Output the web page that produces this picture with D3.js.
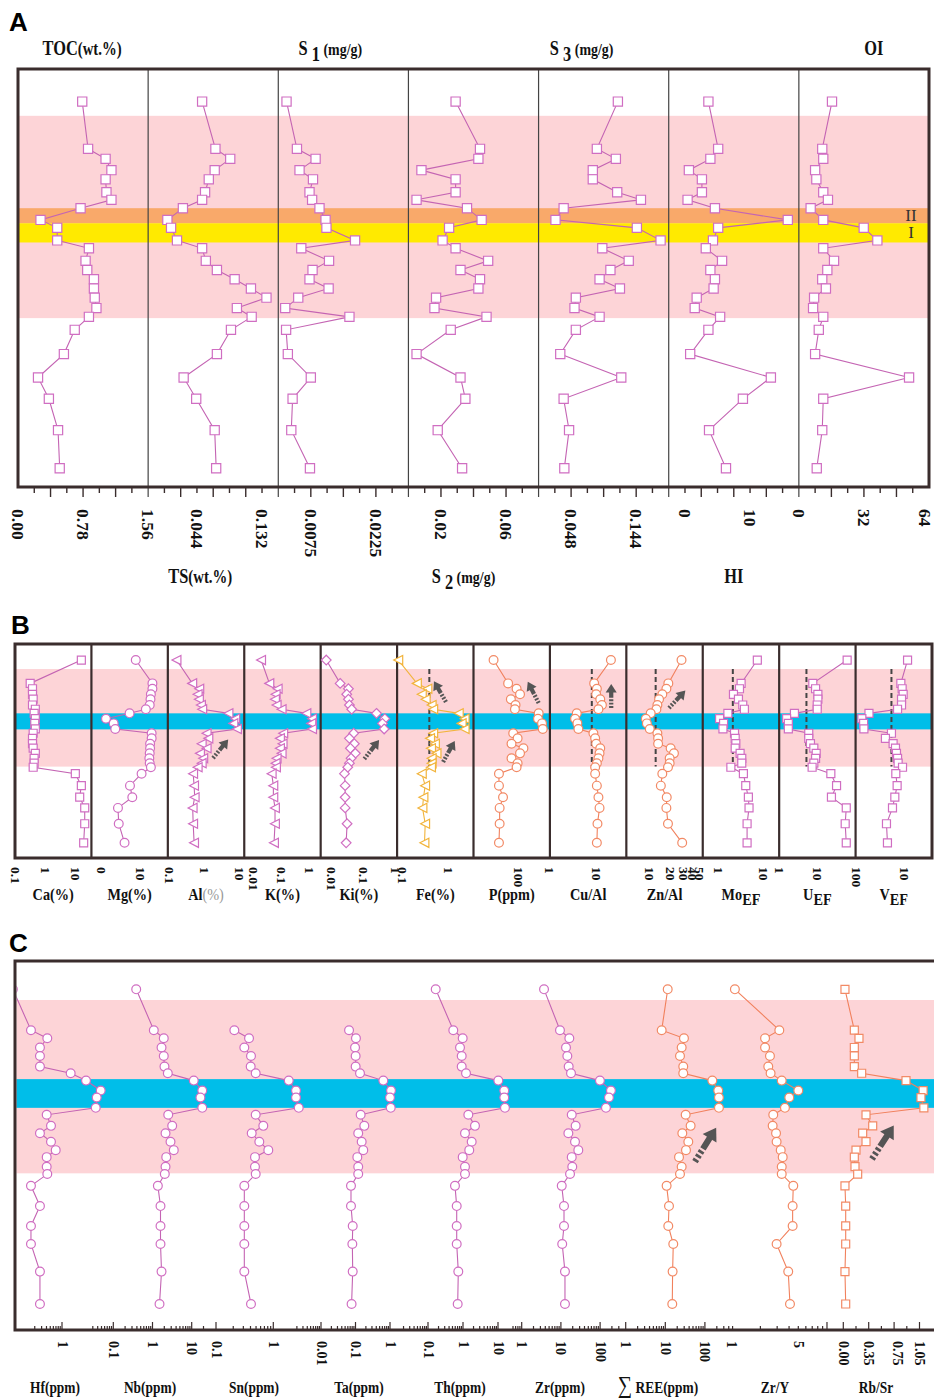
<!DOCTYPE html>
<html>
<head>
<meta charset="utf-8">
<script src="https://cdn.jsdelivr.net/npm/d3@7/dist/d3.min.js"></script>
<style>
html,body{margin:0;padding:0;background:#fff;}
svg{display:block;}
</style>
</head>
<body>
<svg id="chart" width="934" height="1399"></svg>
<script>
// ================= DATA =================
// Panel A : relative sample depth (0 = top of column, 100 = base)
const depthA = [7.8,19.1,21.5,24.2,26.4,29.5,31.3,33.3,36.1,38.0,41.0,42.9,45.9,48.1,50.3,52.5,54.7,57.2,59.3,62.4,68.2,73.8,78.9,86.4,95.5];
const tocA = [0.77,0.84,1.05,1.12,1.05,1.06,1.12,0.75,0.27,0.47,0.47,0.85,0.81,0.83,0.91,0.91,0.92,0.94,0.85,0.68,0.55,0.24,0.37,0.48,0.50];
const tsA  = [0.051,0.069,0.089,0.068,0.060,0.055,0.051,0.025,0.004,0.009,0.017,0.051,0.056,0.071,0.095,0.117,0.138,0.098,0.118,0.090,0.071,0.026,0.043,0.068,0.070];
const s1A  = [0.0019,0.0043,0.0086,0.0049,0.0080,0.0072,0.0078,0.0095,0.0109,0.0111,0.0177,0.0053,0.0117,0.0079,0.0072,0.0116,0.0046,0.0016,0.0164,0.0018,0.0022,0.0075,0.0033,0.0030,0.0073];
const s2A  = [0.029,0.044,0.043,0.008,0.029,0.029,0.005,0.036,0.045,0.025,0.021,0.029,0.049,0.032,0.044,0.043,0.017,0.016,0.048,0.026,0.005,0.032,0.035,0.018,0.033];
const s3A  = [0.117,0.086,0.114,0.080,0.080,0.116,0.151,0.037,0.025,0.145,0.180,0.094,0.133,0.106,0.090,0.120,0.055,0.053,0.090,0.055,0.032,0.122,0.037,0.045,0.038];
const hiA  = [3.6,5.1,3.9,0.6,2.6,2.6,0.4,4.6,15.8,5.1,4.3,3.2,5.7,3.9,4.6,4.4,1.8,1.5,5.4,3.6,0.8,13.2,8.9,3.7,6.3];
const oiA  = [16.3,11.5,12,8,8.6,12,14.3,5.8,12,31.9,38.6,12,17.3,14,11.5,13.3,7.5,7,12,9.8,8,54.2,12,11.5,8.8];
const ticksTOC = ["0.00","0.78","1.56"];
const ticksTS  = ["0.044","0.132"];
const ticksS1  = ["0.0075","0.0225"];
const ticksS2  = ["0.02","0.06"];
const ticksS3  = ["0.048","0.144"];
const ticksHI  = ["0","10"];
const ticksOI  = ["0","32","64"];
const bandPinkA = [11.2,59.6];
const bandIIA = [33.3,36.9];
const bandIA  = [36.9,41.5];

// Panel B
const depthB = [7.5,18.4,20.9,23.5,25.8,28.5,30.5,32.4,34.9,37.1,39.7,41.7,44.1,46.6,48.7,51.1,53.4,55.7,57.6,60.6,66.2,71.6,76.6,84.0,92.9];
const caB = [15.9,0.31,0.37,0.37,0.39,0.37,0.46,0.42,0.46,0.44,0.46,0.39,0.37,0.37,0.39,0.46,0.42,0.42,0.39,10.0,15.9,14.0,20.6,20.6,19.0];
const mgB = [8.9,13.2,13.2,12.8,12.7,12.5,11.5,7.3,1.2,3.2,3.6,13.0,13.0,12.6,12.6,12.5,12.4,12.5,12.8,10.4,7.4,8.0,4.3,4.5,6.0];
const alB = [0.156,0.443,0.707,0.635,0.69,0.79,0.86,4.9,7.66,6.8,8.6,1.15,1.29,0.83,1.15,0.74,0.92,0.83,0.635,0.47,0.5,0.52,0.455,0.47,0.5];
const kB  = [0.0191,0.0374,0.0736,0.0626,0.0591,0.0677,0.1016,0.763,1.21,1.14,1.21,0.116,0.0887,0.110,0.0887,0.1016,0.0677,0.0626,0.0641,0.0452,0.0517,0.0517,0.0591,0.0591,0.0546];
const kiB = [0.0070,0.0189,0.0341,0.0302,0.0341,0.0366,0.0431,0.253,0.459,0.387,0.437,0.0496,0.0366,0.052,0.0392,0.0559,0.0412,0.0366,0.0324,0.0257,0.027,0.027,0.027,0.031,0.029];
const feB = [0.082,0.209,0.355,0.268,0.326,0.44,0.476,1.72,2.31,1.99,2.31,0.476,0.406,0.519,0.426,0.562,0.44,0.44,0.426,0.268,0.317,0.291,0.277,0.317,0.306];
const pB  = [32.7,63.1,92.5,108,71.4,88.3,85.8,251,243,292,302,79.4,96.9,73.5,126,108,73.5,96.9,92.5,41.7,41.7,50.1,43,43,41.7];
const cuAlB = [19.9,8.76,9.99,9.66,11.8,12.8,10.8,3.73,3.43,3.85,4.04,8.44,9.19,9.66,11.8,11.4,10.8,9.99,9.19,9.19,9.99,10.8,11.4,10.3,9.99];
const znAlB = [28,18.4,17.3,15.2,13.7,13,12.6,10.5,9.0,9.3,10.2,13,13.3,13.3,19.8,22,19.2,19.2,18.2,15.2,14.5,17.5,17.3,18.2,28.6];
const moB = [7.36,3.19,2.93,2.15,2.78,3.47,3.78,1.61,1.05,1.29,1.25,2.27,2.35,2.43,2.35,3.03,3.3,3.3,1.88,3.59,4.05,4.64,4.8,4.34,4.34];
const uB  = [58,7.46,8.8,10.1,10.1,9.7,9.7,2.49,1.56,1.73,1.73,5.85,5.85,6.48,7.93,9.14,8.8,7.93,7.16,21.9,30.8,22.7,55,51.6,55];
const vB  = [11.4,8.22,8.76,9.2,8.5,8.5,7.0,1.74,1.23,1.34,1.36,5.2,3.88,5.64,6.33,6.64,7.0,7.2,8.92,6.43,6.86,6.13,5.47,4.08,4.28];
const bandPinkB = [11.7,57.3];
const bandBlueB = [32.4,39.9];
const refTracksB = ["Fe","Cu/Al","Zn/Al","Mo","U","V"];
const refValuesB = [0.39,7.8,12.3,2.08,5.1,5.2];
const arrowTracksB = ["Al","Ki","Fe","Fe","P","Cu/Al","Zn/Al"];
const arrowValuesB = [1.76,0.106,0.9,0.78,251,20.2,18.8];
const arrowDepthsB = [53.3,53.7,27.1,55.1,27.6,29.9,29.9];
const arrowAnglesB = [-51,-52,-120,-61,-117,-90,-47];

// Panel C
const depthC = [7.7,18.8,21.0,23.5,25.8,28.7,30.5,32.5,35.2,37.1,39.9,41.8,44.8,46.8,49.1,51.4,53.3,55.9,57.9,61.1,66.6,72.0,76.9,84.4,93.2];
const hfC = [0.055,0.160,0.42,0.272,0.272,0.272,1.67,4.13,9.84,7.77,7.33,0.405,0.522,0.272,0.522,0.69,0.405,0.405,0.42,0.16,0.272,0.16,0.16,0.272,0.272];
const nbC = [0.384,1.08,1.94,1.70,1.94,2.02,2.46,11.3,18.6,16.7,18.6,2.52,3.18,2.15,2.88,3.49,2.24,2.15,2.06,1.37,1.60,1.60,1.60,1.70,1.51];
const snC = [null,0.209,0.377,0.312,0.408,0.403,0.493,1.86,2.49,2.49,2.78,0.493,0.669,0.42,0.57,0.818,0.479,0.479,0.493,0.312,0.312,0.312,0.312,0.312,0.408];
const taC = [null,0.065,0.103,0.097,0.101,0.101,0.135,0.64,1.07,1.0,1.05,0.141,0.18,0.12,0.151,0.168,0.113,0.12,0.12,0.074,0.074,0.083,0.081,0.083,0.077];
const thC = [0.166,0.528,0.98,0.821,0.918,0.918,1.22,10.2,15.1,15.1,15.8,1.42,2.2,1.14,1.77,1.51,0.98,1.14,1.14,0.59,0.661,0.661,0.661,0.734,0.705];
const zrC = [3.71,9.47,16.4,13.5,14.6,15.8,18.1,99,189,168,141,18.9,23.8,15.5,22.9,27.8,18.9,19.5,17.1,10.5,12,12,10.8,12.7,12.7];
const reeC = [11.5,8.1,29.6,25.9,23.5,28.4,28.4,154,217,226,226,32.7,43.6,26.9,38.1,33.3,22.2,25.9,23.5,10.8,12.4,11.9,15.9,15.3,15.0];
const zrYC = [1.08,3.16,2.24,2.24,2.52,2.42,2.56,3.35,5.0,4.02,3.62,2.73,2.69,2.92,2.96,3.27,3.43,3.35,3.35,4.43,4.36,4.36,2.96,3.92,4.09];
const rbSrC = [0.023,0.152,0.216,0.152,0.152,0.152,0.253,0.864,1.10,1.07,1.11,0.313,0.405,0.267,0.313,0.175,0.152,0.161,0.198,0.023,0.033,0.033,0.033,0.023,0.033];
const bandPinkC = [10.6,57.7];
const bandBlueC = [32.1,39.9];
const arrowTracksC = ["REE","Rb/Sr"];
const arrowValuesC = [56.2,0.395];
const arrowDepthsC = [54.5,53.8];
const arrowAnglesC = [-58,-57];

// ================= STYLE =================
const SERIF = "'Liberation Serif','Times New Roman',serif";
const SANS = "'Liberation Sans',Arial,sans-serif";
const MAG_L = '#c464b3', MAG_M = '#d06ec2';
const ORG_L = '#f1815d', ORG_M = '#f28a66';
const FE_L = '#f2b43c', FE_M = '#f2b43c';
const PINK = '#fdd4d7', BLUE = '#00bee9', ORANGE_B = '#f9a96a', YELLOW = '#ffea00';
const FRAME = '#3a2d2d';
const ARROW = '#555555';

const svg = d3.select('#chart');

function shapePath(shape, s) {
  switch (shape) {
    case 'square': return `M${-s},${-s}H${s}V${s}H${-s}Z`;
    case 'circle': return `M${-s},0A${s},${s} 0 1,0 ${s},0A${s},${s} 0 1,0 ${-s},0Z`;
    case 'triL': return `M${-s},0L${s*0.95},${-s}L${s*0.95},${s}Z`;
    case 'diamond': return `M0,${-s*1.1}L${s*1.1},0L0,${s*1.1}L${-s*1.1},0Z`;
  }
}

function drawSeries(g, vals, depth, x, y, shape, size, lineC, markC) {
  const pts = depth.map((d, i) => ({d, v: vals[i]})).filter(p => p.v != null);
  g.append('path').datum(pts)
    .attr('d', d3.line().x(p => x(p.v)).y(p => y(p.d)))
    .attr('fill', 'none').attr('stroke', lineC).attr('stroke-width', 1.1);
  g.selectAll(null).data(pts).join('path')
    .attr('transform', p => `translate(${x(p.v)},${y(p.d)})`)
    .attr('d', shapePath(shape, size))
    .attr('fill', '#fff').attr('stroke', markC).attr('stroke-width', 1.2);
}

function richText(g, x, y, parts, o) {
  const t = g.append('text')
    .attr('transform', `translate(${x},${y}) scale(${o.sx || 1},1)`)
    .attr('text-anchor', o.anchor || 'middle')
    .attr('font-family', o.family || SERIF)
    .attr('font-size', o.size)
    .attr('font-weight', o.weight || 'bold')
    .attr('fill', o.color || '#111');
  parts.forEach(p => {
    const ts = t.append('tspan').text(p.t);
    if (p.dy) ts.attr('dy', p.dy);
    if (p.size) ts.attr('font-size', p.size);
    if (p.weight) ts.attr('font-weight', p.weight);
    if (p.color) ts.attr('fill', p.color);
  });
  return t;
}

function rotLabel(g, x, y, txt, size) {
  g.append('text')
    .attr('transform', `translate(${x},${y}) rotate(90)`)
    .attr('text-anchor', 'start').attr('dominant-baseline', 'central')
    .attr('font-family', SERIF).attr('font-weight', 'bold')
    .attr('font-size', size).attr('fill', '#111').text(txt);
}

function drawArrow(g, x0, y0, ang, len, k) {
  const a = ang * Math.PI / 180, ux = Math.cos(a), uy = Math.sin(a);
  const hl = 10 * k, hw = 13 * k, sw = 5 * k;
  const bx = x0 + ux * (len - hl), by = y0 + uy * (len - hl);
  const hx = x0 + ux * len, hy = y0 + uy * len;
  const d = 2.2 * k, gp = 1.8 * k;
  g.append('line').attr('x1', x0).attr('y1', y0).attr('x2', bx + ux).attr('y2', by + uy)
    .attr('stroke', ARROW).attr('stroke-width', sw)
    .attr('stroke-dasharray', `${d},${gp},${d},${gp},${d},${gp},200`);
  const px = -uy, py = ux;
  g.append('path')
    .attr('d', `M${hx},${hy}L${bx + px*hw/2},${by + py*hw/2}L${bx - px*hw/2},${by - py*hw/2}Z`)
    .attr('fill', ARROW);
}

function panelLetter(txt, x, y) {
  svg.append('text').attr('x', x).attr('y', y).attr('font-family', SANS)
    .attr('font-weight', 'bold').attr('font-size', 26).attr('fill', '#000').text(txt);
}

// ================= PANEL A =================
(function () {
  const F = {x0: 18, x1: 929, y0: 69, y1: 487};
  const g = svg.append('g');
  const y = d3.scaleLinear().domain([0, 100]).range([F.y0, F.y1]);
  const tracks = [
    {vals: tocA, dom: [0, 1.56], labels: ticksTOC, top: true, dx: -1, title: [{t: 'TOC'}, {t: '(wt.%)', size: 18}]},
    {vals: tsA, dom: [-0.022, 0.154], labels: ticksTS, top: false, dx: -13, title: [{t: 'TS'}, {t: '(wt.%)', size: 18}]},
    {vals: s1A, dom: [0, 0.03], labels: ticksS1, top: true, dx: -13, title: [{t: 'S'}, {t: ' 1', dy: 6}, {t: ' (mg/g)', dy: -6, size: 17}]},
    {vals: s2A, dom: [0, 0.08], labels: ticksS2, top: false, dx: -10, title: [{t: 'S'}, {t: ' 2', dy: 6}, {t: ' (mg/g)', dy: -6, size: 17}]},
    {vals: s3A, dom: [0, 0.192], labels: ticksS3, top: true, dx: -22, title: [{t: 'S'}, {t: ' 3', dy: 6}, {t: ' (mg/g)', dy: -6, size: 17}]},
    {vals: hiA, dom: [-2.5, 17.5], labels: ticksHI, top: false, dx: 0, title: [{t: 'HI'}]},
    {vals: oiA, dom: [0, 64], labels: ticksOI, top: true, dx: 10, title: [{t: 'OI'}]},
  ];
  const tw = (F.x1 - F.x0) / tracks.length;
  tracks.forEach((t, i) => { t.x = d3.scaleLinear().domain(t.dom).range([F.x0 + i * tw, F.x0 + (i + 1) * tw]); });

  // bands
  [[bandPinkA, PINK], [bandIIA, ORANGE_B], [bandIA, YELLOW]].forEach(([b, c]) => {
    g.append('rect').attr('x', F.x0 - 1).attr('width', F.x1 - F.x0 + 1)
      .attr('y', y(b[0])).attr('height', y(b[1]) - y(b[0])).attr('fill', c);
  });
  // dividers (extend down to tick length)
  tracks.slice(1).forEach(t => {
    const xx = t.x.range()[0];
    g.append('line').attr('x1', xx).attr('x2', xx).attr('y1', F.y0).attr('y2', F.y1 + 10)
      .attr('stroke', '#444').attr('stroke-width', 1.2);
  });
  // series
  tracks.forEach(t => drawSeries(g, t.vals, depthA, t.x, y, 'square', 4.6, MAG_L, MAG_M));
  // zone labels
  g.append('text').attr('x', F.x1 - 18).attr('y', y((bandIIA[0] + bandIIA[1]) / 2)).attr('text-anchor', 'middle')
    .attr('dominant-baseline', 'central').attr('font-family', SERIF).attr('font-size', 17).attr('fill', '#333').text('II');
  g.append('text').attr('x', F.x1 - 18).attr('y', y((bandIA[0] + bandIA[1]) / 2)).attr('text-anchor', 'middle')
    .attr('dominant-baseline', 'central').attr('font-family', SERIF).attr('font-size', 17).attr('fill', '#333').text('I');
  // frame
  g.append('rect').attr('x', F.x0).attr('y', F.y0).attr('width', F.x1 - F.x0).attr('height', F.y1 - F.y0)
    .attr('fill', 'none').attr('stroke', FRAME).attr('stroke-width', 3);
  // ticks + labels
  tracks.forEach(t => {
    const [d0, d1] = t.dom;
    for (let k = 1; k < 8; k++) {
      const v = d0 + k * (d1 - d0) / 8, xx = t.x(v);
      g.append('line').attr('x1', xx).attr('x2', xx).attr('y1', F.y1 + 1).attr('y2', F.y1 + (k % 2 === 0 ? 10 : 6))
        .attr('stroke', FRAME).attr('stroke-width', 1.4);
    }
    t.labels.forEach(s => rotLabel(g, Math.min(t.x(+s), F.x1 - 4), F.y1 + 22, s, 17.5));
    const cx = (t.x.range()[0] + t.x.range()[1]) / 2 + t.dx;
    richText(g, cx, t.top ? 55 : 583, t.title, {size: 20, sx: 0.82});
  });
  panelLetter('A', 9, 31);
})();

// ================= PANEL B =================
(function () {
  const F = {x0: 15, x1: 932, y0: 644, y1: 858};
  const g = svg.append('g');
  const y = d3.scaleLinear().domain([0, 100]).range([F.y0, F.y1]);
  const tracks = [
    {name: 'Ca', vals: caB, log: true, dom: [0.0962, 34.5], labels: ["0.1", "1", "10"], shape: 'square', s: 4, lc: MAG_L, mc: MAG_M, title: [{t: 'Ca(%)'}]},
    {name: 'Mg', vals: mgB, log: false, dom: [-2.56, 17.18], labels: ["0", "10"], shape: 'circle', s: 4.4, lc: MAG_L, mc: MAG_M, title: [{t: 'Mg(%)'}]},
    {name: 'Al', vals: alB, log: true, dom: [0.0875, 13.9], labels: ["0.1", "1", "10"], shape: 'triL', s: 4.6, lc: MAG_L, mc: MAG_M, title: [{t: 'Al'}, {t: '(%)', weight: 'normal', color: '#999'}]},
    {name: 'K', vals: kB, log: true, dom: [0.00483, 2.43], labels: ["0.01", "0.1", "1"], shape: 'triL', s: 4.6, lc: MAG_L, mc: MAG_M, title: [{t: 'K(%)'}]},
    {name: 'Ki', vals: kiB, log: true, dom: [0.0047, 1.1], labels: ["0.01", "0.1", "1"], shape: 'diamond', s: 4.4, lc: MAG_L, mc: MAG_M, title: [{t: 'Ki(%)'}]},
    {name: 'Fe', vals: feB, log: true, dom: [0.077, 3.6], labels: ["0.1", "1"], shape: 'triL', s: 4.6, lc: FE_L, mc: FE_M, title: [{t: 'Fe(%)'}]},
    {name: 'P', vals: pB, log: true, dom: [13.2, 417], labels: ["100"], shape: 'circle', s: 4.4, lc: ORG_L, mc: ORG_M, title: [{t: 'P(ppm)'}]},
    {name: 'Cu/Al', vals: cuAlB, log: true, dom: [1, 42.4], labels: ["1", "10"], shape: 'circle', s: 4.4, lc: ORG_L, mc: ORG_M, title: [{t: 'Cu/Al'}]},
    {name: 'Zn/Al', vals: znAlB, log: true, dom: [4.84, 55], labels: ["10", "20", "30", "40", "50"], shape: 'circle', s: 4.4, lc: ORG_L, mc: ORG_M, title: [{t: 'Zn/Al'}]},
    {name: 'Mo', vals: moB, log: true, dom: [0.441, 22.7], labels: ["1", "10"], shape: 'square', s: 4, lc: MAG_L, mc: MAG_M, title: [{t: 'Mo'}, {t: 'EF', dy: 5}]},
    {name: 'U', vals: uB, log: true, dom: [1, 96], labels: ["1", "10", "100"], shape: 'square', s: 4, lc: MAG_L, mc: MAG_M, title: [{t: 'U'}, {t: 'EF', dy: 5}]},
    {name: 'V', vals: vB, log: true, dom: [0.906, 37.5], labels: ["10"], shape: 'square', s: 4, lc: MAG_L, mc: MAG_M, title: [{t: 'V'}, {t: 'EF', dy: 5}]},
  ];
  const tw = (F.x1 - F.x0) / tracks.length;
  const byName = {};
  tracks.forEach((t, i) => {
    t.x = (t.log ? d3.scaleLog() : d3.scaleLinear()).domain(t.dom).range([F.x0 + i * tw, F.x0 + (i + 1) * tw]);
    byName[t.name] = t;
  });
  [[bandPinkB, PINK], [bandBlueB, BLUE]].forEach(([b, c]) => {
    g.append('rect').attr('x', F.x0).attr('width', F.x1 - F.x0)
      .attr('y', y(b[0])).attr('height', y(b[1]) - y(b[0])).attr('fill', c);
  });
  tracks.slice(1).forEach(t => {
    const xx = t.x.range()[0];
    g.append('line').attr('x1', xx).attr('x2', xx).attr('y1', F.y0).attr('y2', F.y1)
      .attr('stroke', FRAME).attr('stroke-width', 2.2);
  });
  // reference dashed lines
  refTracksB.forEach((n, i) => {
    const xx = byName[n].x(refValuesB[i]);
    g.append('line').attr('x1', xx).attr('x2', xx).attr('y1', y(bandPinkB[0])).attr('y2', y(bandPinkB[1]))
      .attr('stroke', '#444').attr('stroke-width', 2).attr('stroke-dasharray', '5,3');
  });
  tracks.forEach(t => drawSeries(g, t.vals, depthB, t.x, y, t.shape, t.s, t.lc, t.mc));
  arrowTracksB.forEach((n, i) => {
    drawArrow(g, byName[n].x(arrowValuesB[i]), y(arrowDepthsB[i]), arrowAnglesB[i], 24, 0.85);
  });
  g.append('rect').attr('x', F.x0).attr('y', F.y0).attr('width', F.x1 - F.x0).attr('height', F.y1 - F.y0)
    .attr('fill', 'none').attr('stroke', FRAME).attr('stroke-width', 3);
  tracks.forEach(t => {
    t.labels.forEach(s => rotLabel(g, t.x(+s), F.y1 + 9, s, 13.5));
    const cx = (t.x.range()[0] + t.x.range()[1]) / 2;
    richText(g, cx, 900, t.title, {size: 17, sx: 0.84});
  });
  panelLetter('B', 11, 634);
})();

// ================= PANEL C =================
(function () {
  const F = {x0: 15, x1: 937, y0: 961, y1: 1330};
  const g = svg.append('g');
  const y = d3.scaleLinear().domain([0, 100]).range([F.y0, F.y1 - 1]);
  const tracks = [
    {name: 'Hf', vals: hfC, log: true, dom: [0.1, 1], rng: [23, 62], labels: ["1"], tr: [0.2, 1], shape: 'circle', lc: MAG_L, mc: MAG_M, cx: 55, title: [{t: 'Hf(ppm)'}]},
    {name: 'Nb', vals: nbC, log: true, dom: [0.1, 10], rng: [113.3, 191.7], labels: ["0.1", "1", "10"], tr: [0.03, 20], shape: 'circle', lc: MAG_L, mc: MAG_M, cx: 150, title: [{t: 'Nb(ppm)'}]},
    {name: 'Sn', vals: snC, log: true, dom: [0.1, 1], rng: [216, 273.3], labels: ["0.1", "1"], tr: [0.1, 1], shape: 'circle', lc: MAG_L, mc: MAG_M, cx: 254, title: [{t: 'Sn(ppm)'}]},
    {name: 'Ta', vals: taC, log: true, dom: [0.01, 1], rng: [321, 390], labels: ["0.01", "0.1", "1"], tr: [0.002, 1], shape: 'circle', lc: MAG_L, mc: MAG_M, cx: 359, title: [{t: 'Ta(ppm)'}]},
    {name: 'Th', vals: thC, log: true, dom: [0.1, 10], rng: [428, 498], labels: ["0.1", "1", "10"], tr: [0.02, 10], shape: 'circle', lc: MAG_L, mc: MAG_M, cx: 460, title: [{t: 'Th(ppm)'}]},
    {name: 'Zr', vals: zrC, log: true, dom: [1, 100], rng: [521.7, 600.1], labels: ["1", "10", "100"], tr: [0.6, 300], shape: 'circle', lc: MAG_L, mc: MAG_M, cx: 560, title: [{t: 'Zr(ppm)'}]},
    {name: 'REE', vals: reeC, log: true, dom: [1, 100], rng: [625.7, 704.9], labels: ["1", "10", "100"], tr: [1, 500], shape: 'circle', lc: ORG_L, mc: ORG_M, cx: 658, title: [{t: '∑', size: 24, weight: 'normal'}, {t: ' REE(ppm)'}]},
    {name: 'Zr/Y', vals: zrYC, log: true, dom: [1, 5], rng: [731.7, 798.3], labels: ["1", "5"], tr: [2, 10], shape: 'circle', lc: ORG_L, mc: ORG_M, cx: 775, title: [{t: 'Zr/Y'}]},
    {name: 'Rb/Sr', vals: rbSrC, log: false, dom: [0, 1.05], rng: [843.3, 919.5], labels: ["0.00", "0.35", "0.75", "1.05"], tr: [0, 1.05], shape: 'square', lc: ORG_L, mc: ORG_M, cx: 876, title: [{t: 'Rb/Sr'}]},
  ];
  const byName = {};
  tracks.forEach(t => {
    t.x = (t.log ? d3.scaleLog() : d3.scaleLinear()).domain(t.dom).range(t.rng);
    byName[t.name] = t;
  });
  svg.append('defs').append('clipPath').attr('id', 'clipC').append('rect')
    .attr('x', F.x0 + 1.5).attr('y', F.y0).attr('width', F.x1 - F.x0).attr('height', F.y1 - F.y0);
  const inner = g.append('g').attr('clip-path', 'url(#clipC)');
  [[bandPinkC, PINK], [bandBlueC, BLUE]].forEach(([b, c]) => {
    inner.append('rect').attr('x', F.x0).attr('width', F.x1 - F.x0)
      .attr('y', y(b[0])).attr('height', y(b[1]) - y(b[0])).attr('fill', c);
  });
  tracks.forEach(t => drawSeries(inner, t.vals, depthC, t.x, y, t.shape, t.shape === 'square' ? 4 : 4.4, t.lc, t.mc));
  arrowTracksC.forEach((n, i) => {
    drawArrow(inner, byName[n].x(arrowValuesC[i]), y(arrowDepthsC[i]), arrowAnglesC[i], 40, 1.25);
  });
  g.append('rect').attr('x', F.x0).attr('y', F.y0).attr('width', F.x1 - F.x0).attr('height', F.y1 - F.y0)
    .attr('fill', 'none').attr('stroke', FRAME).attr('stroke-width', 3);
  // inward ticks
  tracks.forEach(t => {
    let tv;
    if (t.log) {
      tv = d3.scaleLog().domain(t.tr).ticks().filter(v => v >= t.tr[0] * 0.999 && v <= t.tr[1] * 1.001);
    } else {
      tv = d3.range(0, 6.5).map(k => k * 0.175);
    }
    tv.forEach((v, k) => {
      const major = t.log ? Math.abs(Math.log10(v) - Math.round(Math.log10(v))) < 1e-6 : k % 2 === 0;
      const xx = t.x(v);
      g.append('line').attr('x1', xx).attr('x2', xx).attr('y1', F.y1 - 1).attr('y2', F.y1 - (major ? 8 : 4))
        .attr('stroke', FRAME).attr('stroke-width', 1.2);
    });
    t.labels.forEach(s => rotLabel(g, t.x(+s), 1341, s, 14));
    richText(g, t.cx, 1393, t.title, {size: 16, sx: 0.84});
  });
  panelLetter('C', 9, 952);
})();
</script>
</body>
</html>
